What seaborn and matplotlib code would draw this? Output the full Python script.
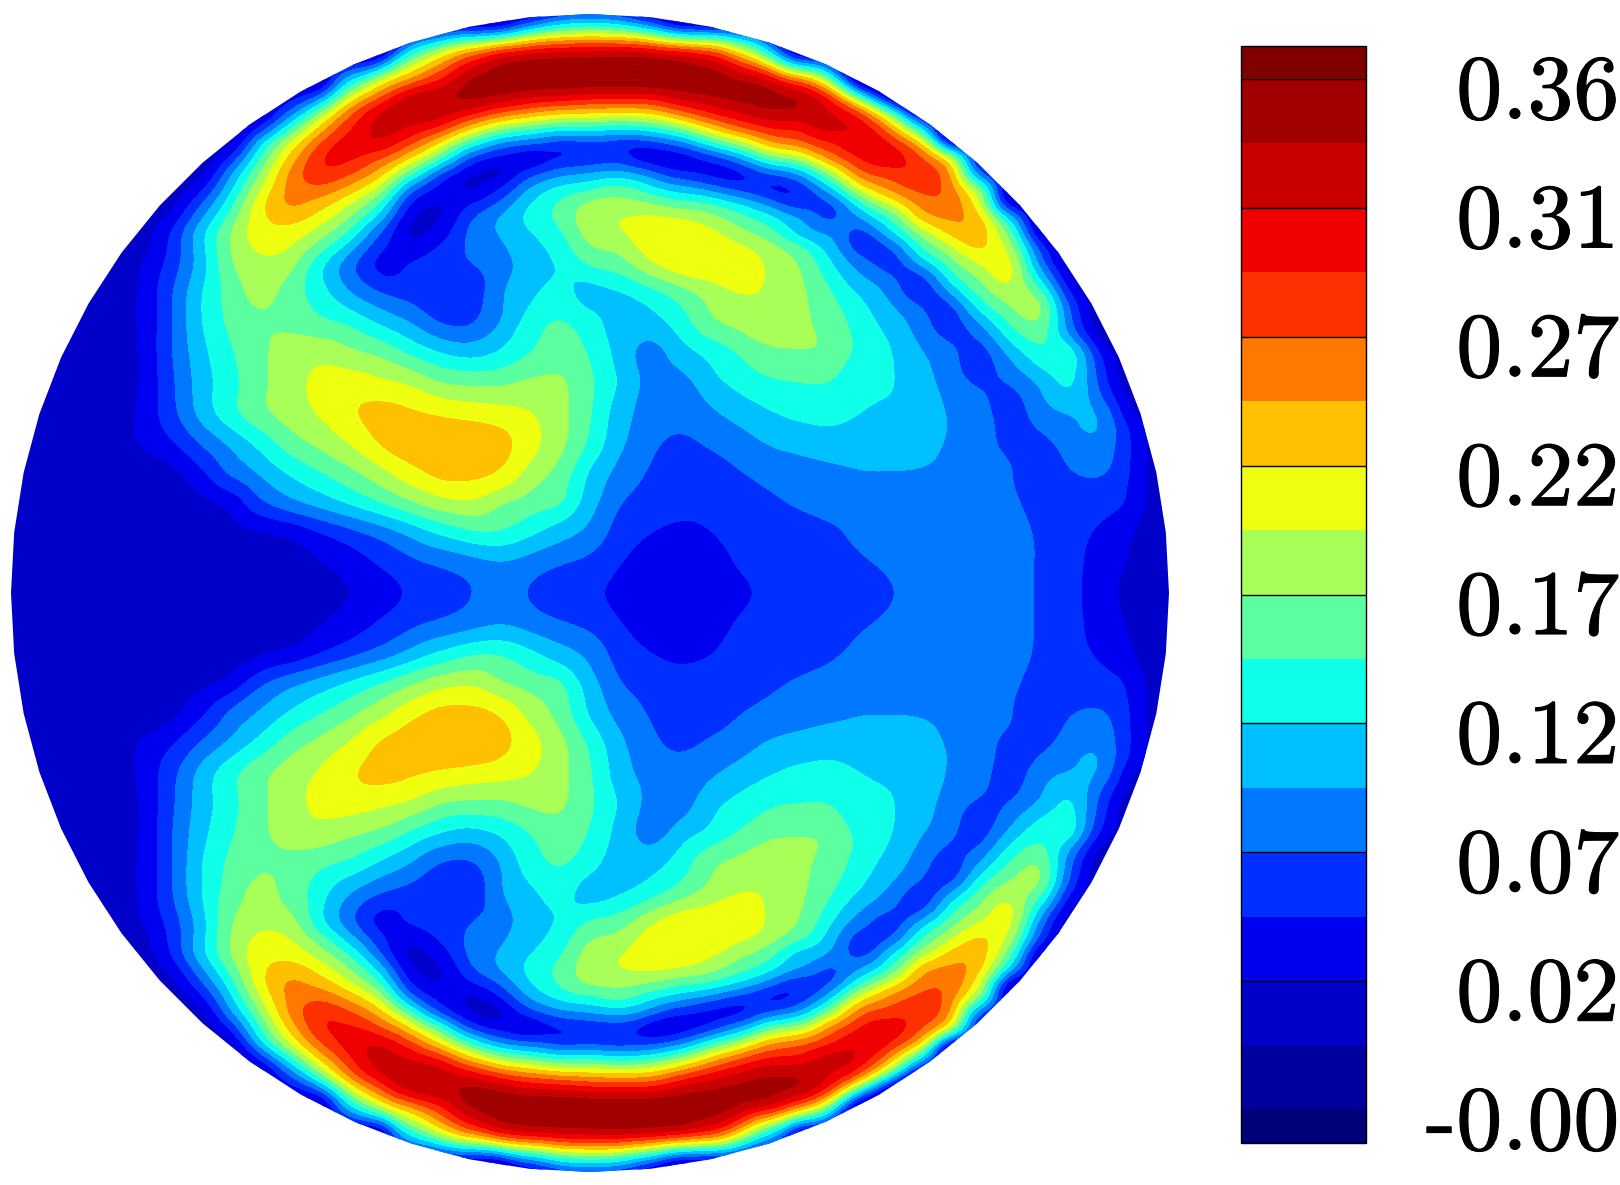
import numpy as np
import matplotlib
matplotlib.use("Agg")
import matplotlib.pyplot as plt
import matplotlib.tri as mtri
import matplotlib.patheffects as pe
from matplotlib.colors import ListedColormap
from matplotlib.patches import RegularPolygon
import seaborn as sns

# colours of the legend bar, bottom to top
under_colour = "#000078"
band_colours = ["#00009c", "#0000c8", "#0000f0", "#0030ff", "#0078ff", "#00c0ff", "#10ffe8", "#5cffa0",
                "#a8ff58", "#eeff10", "#ffc000", "#ff7800", "#ff3000", "#f00000", "#c80000", "#a00000"]
over_colour = "#800000"
tick_labels = ["-0.00", "0.02", "0.07", "0.12", "0.17", "0.22", "0.27", "0.31", "0.36"]

# field, in legend bands, columns x = 20, 50 ... 1160 px, top half only
o = 1.2
f = 1.5
row_m7 = [o]*16 + [0.4, 0.0, 0.0, 0.0, 0.0, 0.0, 0.4] + [o]*16
row_23 = [o]*16 + [1.3, 3.5, 5.2, 5.7, 5.2, 3.5, 1.3] + [o]*16
row_53 = [o]*13 + [6.5, 9.2, 11.5, 13.5, 14.2, 14.5, 14.6, 14.7, 14.5, 14.0, 12.9, 10.0, 6.0, o] + [o]*12
row_83 = [o]*11 + [6.4, 9.7, 11.6, 13.3, 15.4, 15.8, 15.8, 15.8, 15.7, 15.8, 15.8, 15.8, 15.7, 15.4, 14.8, 12.6, 8.6, o] + [o]*10
row_113 = [o]*9 + [4.2, 8.1, 11.9, 14.2, 14.8, 14.6, 13.4, 11.9, 11.0, 10.2, 10.0, 9.8, 10.1, 11.6, 13.0, 14.0, 14.9, 14.9, 13.9, 12.6, 8.0] + [o]*9
row_143 = [o]*7 + [1.5, 5.8, 9.2, 12.0, 13.7, 14.0, 12.3, 9.7, 6.9, 4.7, 4.1, 3.2, 3.4, 3.1, 3.4, 4.4, 6.6, 8.5, 10.9, 11.8, 12.7, 14.0, 13.2, 10.7, 1.5] + [o]*7
row_173 = [o]*6 + [1.5, 4.8, 8.0, 11.3, 12.9, 12.2, 10.5, 7.4, 3.6, 2.0, 1.4, 3.5, 4.6, 5.0, 5.3, 4.5, 3.0, 2.4, 2.4, 3.9, 5.0, 8.2, 11.8, 12.5, 12.8, 11.2, 3.5] + [o]*6
row_203 = [o]*5 + [1.6, 3.8, 6.5, 9.7, 11.3, 10.5, 9.0, 6.9, 2.8, 1.9, 2.9, 4.1, 6.0, 7.2, 8.3, 8.3, 8.0, 7.2, 7.0, 6.0, 4.5, 3.0, 3.6, 6.5, 9.3, 11.3, 11.8, 9.0, 1.5] + [o]*5
row_233 = [o]*4 + [1.5, 3.0, 5.7, 8.1, 9.6, 9.5, 8.4, 6.7, 3.9, 1.5, 2.4, 4.3, 5.05, 5.9, 6.8, 8.5, 8.9, 9.7, 9.8, 9.3, 8.3, 7.3, 5.4, 5.0, 3.3, 5.9, 8.1, 10.3, 10.6, 7.5, 1.5] + [o]*4
row_263 = [1.3]*4 + [1.9, 3.3, 5.4, 7.9, 8.75, 8.4, 6.2, 4.2, 2.5, 3.1, 3.5, 4.0, 4.6, 5.4, 6.1, 7.2, 7.6, 8.9, 9.8, 9.9, 9.9, 8.8, 7.9, 6.1, 4.5, 3.2, 5.4, 7.5, 9.0, 9.4, 4.4] + [o]*4
row_293 = [f]*4 + [2.05, 3.8, 5.9, 7.4, 8.4, 7.55, 6.4, 5.0, 4.0, 3.6, 3.4, 3.2, 4.9, 5.75, 6.4, 5.5, 5.85, 6.5, 7.4, 8.3, 9.0, 8.9, 8.2, 7.1, 5.9, 4.7, 3.2, 5.0, 7.3, 8.6, 7.5, 2.9] + [o]*3
row_323 = [f]*4 + [2.05, 3.8, 5.9, 7.2, 7.85, 7.7, 7.2, 6.8, 5.85, 5.0, 3.9, 3.8, 4.95, 6.5, 7.15, 6.4, 5.45, 5.6, 6.4, 7.8, 8.3, 8.7, 8.2, 7.6, 6.5, 5.6, 4.5, 3.3, 5.0, 7.0, 8.0, 4.2, o] + [o]*2
row_353 = [f]*4 + [2.0, 3.85, 5.6, 6.85, 7.75, 8.5, 8.7, 8.2, 7.75, 6.8, 6.0, 5.6, 6.1, 6.95, 7.6, 6.9, 5.6, 4.4, 5.5, 6.2, 7.05, 7.8, 7.95, 7.85, 6.7, 6.1, 5.1, 4.3, 3.4, 5.2, 6.7, 6.9, 2.9] + [o]*2
row_383 = [f]*4 + [2.0, 3.7, 5.4, 6.6, 7.7, 8.6, 9.3, 9.5, 9.2, 8.85, 8.0, 7.8, 7.8, 8.2, 8.2, 7.2, 5.9, 4.7, 4.5, 5.65, 6.3, 6.8, 6.95, 6.95, 6.3, 6.1, 5.4, 4.6, 3.8, 4.0, 5.0, 6.3, 3.7, o, o]
row_413 = [f]*4 + [2.1, 3.6, 5.3, 6.7, 7.75, 8.5, 9.1, 9.9, 10.35, 10.15, 9.85, 9.6, 9.4, 9.05, 8.3, 7.1, 5.4, 4.6, 4.35, 4.8, 5.4, 5.9, 6.25, 6.4, 6.0, 5.7, 5.5, 4.9, 4.4, 3.5, 4.5, 4.9, 5.0, 2.0, o]
row_443 = [f]*4 + [2.05, 2.8, 4.05, 5.15, 6.3, 7.5, 8.25, 9.05, 10.1, 10.6, 10.8, 10.85, 10.4, 9.4, 8.3, 6.8, 5.2, 4.2, 3.8, 4.1, 4.5, 5.1, 5.35, 5.5, 5.6, 5.5, 5.3, 4.9, 4.5, 3.6, 3.6, 4.5, 4.8, 3.0, 1.3]
row_473 = [f]*5 + [1.65, 2.7, 4.2, 5.1, 6.1, 6.9, 7.7, 8.6, 9.6, 10.3, 10.3, 9.9, 8.6, 7.6, 5.8, 4.6, 3.9, 3.6, 3.6, 3.95, 4.25, 4.5, 4.75, 4.95, 4.97, 4.9, 4.7, 4.5, 4.1, 3.3, 3.95, 4.2, 3.0, 1.3]
row_503 = [f]*6 + [1.7, 2.2, 3.8, 4.7, 5.4, 6.15, 6.95, 7.8, 8.6, 8.85, 8.0, 7.5, 7.2, 5.4, 4.0, 3.6, 3.4, 3.4, 3.6, 3.85, 4.1, 4.3, 4.4, 4.5, 4.6, 4.65, 4.65, 4.2, 3.6, 3.3, 3.4, 2.9, 1.3]
row_533 = [f]*7 + [1.6, 1.8, 2.1, 2.9, 3.6, 4.3, 5.2, 6.1, 6.8, 6.9, 6.2, 5.4, 4.7, 3.5, 3.0, 2.7, 2.95, 3.35, 3.5, 3.65, 3.85, 4.2, 4.4, 4.55, 4.7, 4.7, 4.4, 3.85, 3.4, 2.8, 2.1, 1.3]
row_563 = [f]*8 + [1.6, 1.7, 1.9, 2.4, 3.1, 3.7, 4.1, 4.5, 4.85, 4.5, 4.05, 3.7, 3.0, 2.6, 2.4, 2.6, 3.1, 3.3, 3.5, 3.6, 3.9, 4.1, 4.4, 4.6, 4.6, 4.35, 3.9, 3.4, 2.5, 1.9, 1.3]
row_593 = [f]*8 + [1.55, 1.6, 1.75, 1.95, 2.5, 3.1, 3.5, 3.9, 4.6, 3.85, 3.4, 3.15, 2.8, 2.5, 2.4, 2.5, 2.85, 3.15, 3.3, 3.5, 3.75, 3.95, 4.2, 4.5, 4.5, 4.3, 3.9, 3.3, 2.5, 1.6, 1.3]

upper_rows = [row_m7, row_23, row_53, row_83, row_113, row_143, row_173, row_203, row_233, row_263, row_293,
              row_323, row_353, row_383, row_413, row_443, row_473, row_503, row_533, row_563]
row_y = [-7, 23, 53, 83, 113, 143, 173, 203, 233, 263, 293, 323, 353, 383, 413, 443, 473, 503, 533, 563]
col_x = list(range(20, 1161, 30))

# extra in-between rows where the ring is thin: (y, first x, values every 30 px)
extra_98 = (98, 320, [4.5, 9.2, 12.0, 14.8, 15.2, 15.4, 14.8, 14.0, 13.8, 13.3, 13.2, 13.2, 14.3, 14.9, 15.4, 15.5, 15.2, 13.2, 7.5, 1.0])
extra_128 = (128, 260, [3.0, 6.7, 10.3, 12.8, 14.5, 13.9, 12.9, 10.3, 8.3, 7.3, 6.5, 6.6, 6.2, 6.6, 7.9, 10.1, 11.9, 13.0, 13.1, 14.6, 13.9, 11.0, 6.2])
extra_158 = (158, 230, [3.0, 6.9, 10.25, 13.0, 13.2, 12.0, 10.0, 7.4, 3.6, 2.5, 1.6, 2.7, 2.9, 3.2, 1.9, 2.0, 3.0, 4.85, 7.5, 8.5, 11.5, 13.1, 13.7, 12.2, 9.7])
extra_188 = (188, 200, [2.5, 5.6, 8.8, 11.3, 11.8, 10.6, 8.7, 4.4, 2.6, 1.6, 2.95, 5.1, 6.3, 6.7, 7.4, 6.2, 5.4, 4.4, 3.3, 2.4, 3.2, 5.6, 9.5, 11.3, 12.4, 11.6, 8.2])
extra_218 = (218, 170, [2.2, 4.7, 7.3, 9.7, 10.4, 9.5, 7.9, 5.5, 2.1, 1.8, 3.9, 5.2, 6.4, 7.3, 8.7, 9.1, 9.3, 9.1, 8.4, 7.4, 6.5, 5.3, 3.6, 4.9, 6.7, 10.5, 11.2, 10.5, 6.0])
extra_248 = (248, 140, [1.5, 3.1, 5.5, 8.0, 9.2, 9.0, 7.4, 5.4, 3.2, 2.4, 3.2, 4.2, 4.8, 5.6, 6.4, 7.9, 8.2, 9.5, 9.9, 9.8, 9.2, 8.5, 7.4, 5.5, 3.3, 3.7, 6.8, 8.6, 10.2, 8.6, 3.7])
extra_278 = (278, 860, [5.1, 4.3, 3.3, 6.4, 8.1, 9.5, 5.9, 1.9])
extra_308 = (308, 860, [6.3, 5.2, 4.2, 3.3, 6.3, 7.9, 8.5, 3.9])
extra_338 = (338, 860, [6.7, 5.9, 4.8, 3.8, 4.0, 6.3, 7.3, 4.9, 1.8])
extra_368 = (368, 860, [6.3, 6.1, 5.4, 4.4, 3.4, 4.6, 6.0, 6.5, 3.4])
extra_398 = (398, 860, [6.2, 6.0, 5.5, 4.8, 4.2, 3.5, 4.8, 5.8, 4.1, 1.8])
extra_428 = (428, 860, [5.7, 5.6, 5.4, 4.95, 4.6, 3.4, 4.1, 4.8, 5.1, 2.9])
extra_458 = (458, 860, [5.2, 5.2, 5.2, 4.8, 4.5, 4.0, 3.3, 4.2, 4.6, 3.0])
extra_488 = (488, 860, [4.7, 4.7, 4.6, 4.5, 4.4, 4.1, 3.5, 3.5, 3.6, 2.9])
extra_rows = [extra_98, extra_128, extra_158, extra_188, extra_218, extra_248, extra_278, extra_308,
              extra_338, extra_368, extra_398, extra_428, extra_458, extra_488]

centre_x, centre_y, radius = 590, 593, 578


def smooth(z, sigma):
    # plain gaussian blur so the contours do not show the sampling grid
    half = int(3 * sigma)
    k = np.exp(-0.5 * (np.arange(-half, half + 1) / sigma) ** 2)
    k = k / k.sum()
    p = np.pad(z, half, mode="edge")
    p = np.apply_along_axis(lambda v: np.convolve(v, k, mode="same"), 0, p)
    p = np.apply_along_axis(lambda v: np.convolve(v, k, mode="same"), 1, p)
    return p[half:-half, half:-half]


sns.set_theme(style="white")
plt.rcParams["font.family"] = ["cmr10", "DejaVu Sans"]

# the picture is symmetric about the middle row, so mirror the top half
px, py, pv = [], [], []
for y, row in zip(row_y, upper_rows):
    xs = [-10] + col_x + [1190]
    vals = [row[0]] + row + [row[-1]]
    for x, v in zip(xs, vals):
        px += [x, x]
        py += [y, 2 * centre_y - y]
        pv += [v, v]
for x, v in zip([-10] + col_x + [1190], [row_593[0]] + row_593 + [row_593[-1]]):
    px.append(x)
    py.append(centre_y)
    pv.append(v)
for y, x0, vals in extra_rows:
    for i, v in enumerate(vals):
        px += [x0 + 30 * i, x0 + 30 * i]
        py += [y, 2 * centre_y - y]
        pv += [v, v]

tri = mtri.Triangulation(np.array(px, dtype=float), np.array(py, dtype=float))
interp = mtri.CubicTriInterpolator(tri, np.array(pv, dtype=float), kind="geom")
fine_x, fine_y = np.meshgrid(np.arange(0, 1181, 2.0), np.arange(0, 1187, 2.0))
fine = np.ma.filled(interp(fine_x, fine_y), o)
fine = smooth(fine, 4.0)

levels = np.arange(0, 17)
cmap = ListedColormap(sns.color_palette(band_colours))
cmap.set_under(under_colour)
cmap.set_over(over_colour)

fig = plt.figure(figsize=(16.2, 11.85), dpi=100)
ax = fig.add_axes([0, 0, 1, 1])
ax.set_xlim(0, 1620)
ax.set_ylim(1185, 0)
ax.axis("off")

cs = ax.contourf(fine_x, fine_y, fine, levels=levels, cmap=cmap, extend="both")
rim = RegularPolygon((centre_x, centre_y), numVertices=60, radius=radius + 1, facecolor="none",
                     edgecolor="none", transform=ax.transData)
ax.add_patch(rim)
cs.set_clip_path(rim)

cax = fig.add_axes([1241 / 1620, (1185 - 1143) / 1185, 125 / 1620, 1097 / 1185])
cb = fig.colorbar(cs, cax=cax, extend="both", extendrect=True, extendfrac=0.032, ticks=[])
cb.outline.set_edgecolor("black")
cb.outline.set_linewidth(1)
cb.minorticks_off()
cax.hlines(levels[::2], 0, 1, transform=cax.get_yaxis_transform(), colors="black", linewidth=1)
for lev, lab in zip(levels[::2], tick_labels):
    t = cax.annotate(lab, xy=(1, lev), xycoords=cax.get_yaxis_transform(), xytext=(182.5, -12),
                     textcoords="offset points", ha="right", va="center", fontsize=66, color="black")
    t.set_path_effects([pe.withStroke(linewidth=0.8, foreground="black")])

fig.savefig("out.png", dpi=100, facecolor="white")
